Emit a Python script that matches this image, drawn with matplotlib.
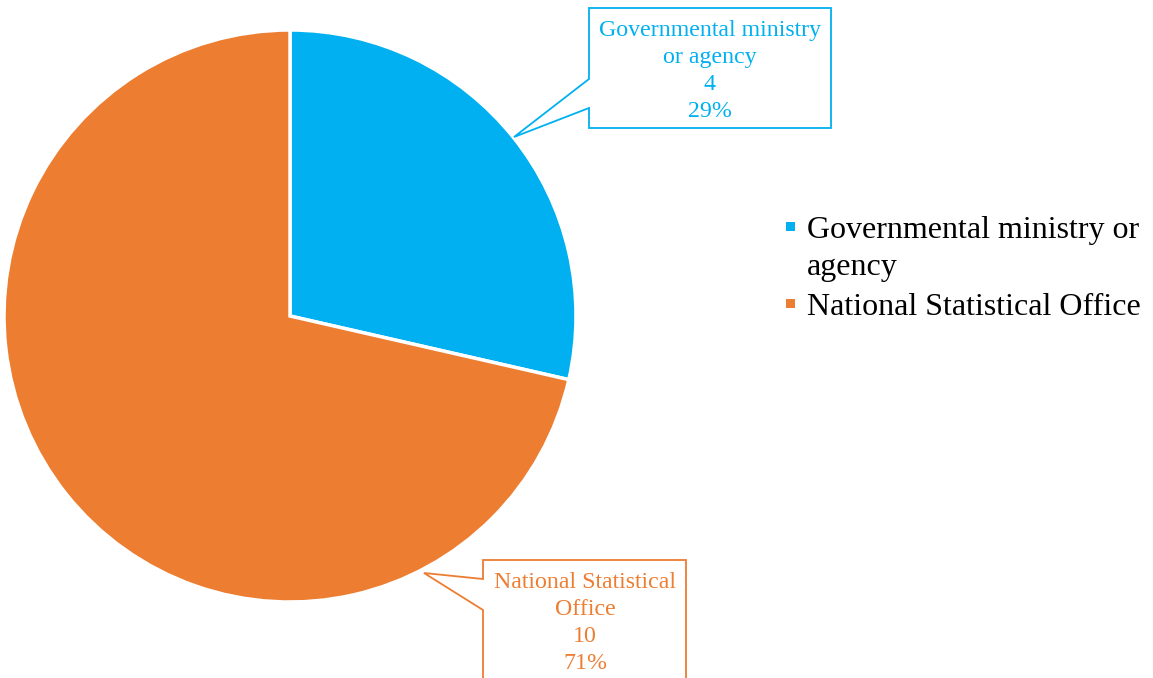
import matplotlib.pyplot as plt
from matplotlib.patches import Polygon, Rectangle

# data
categories = ['Governmental ministry or agency', 'National Statistical Office']
values = [4, 10]
colors = ['#00B0F0', '#ED7D31']
box_labels = ['Governmental ministry\nor agency', 'National Statistical\nOffice']
legend_labels = ['Governmental ministry or\nagency', 'National Statistical Office']

plt.rcParams['font.family'] = ['Liberation Serif', 'DejaVu Serif']

W, H = 1153, 678
fig = plt.figure(figsize=(W/100, H/100), dpi=100)
ax = fig.add_axes([0, 0, 1, 1])

# pie (y axis inverted -> counterclock in data = clockwise on screen)
cx, cy, r = 290, 316, 286
wedges, _ = ax.pie(values, colors=colors, startangle=-90, counterclock=True,
                   center=(cx, cy), radius=r, frame=True,
                   wedgeprops=dict(edgecolor='white', linewidth=2.5))
ax.set_xlim(0, W)
ax.set_ylim(H, 0)
ax.set_aspect('equal')
ax.axis('off')

total = sum(values)
pct = [round(100*v/total) for v in values]

# callouts
callouts = [
    dict(poly=[(589, 8), (831, 8), (831, 128), (589, 128), (589, 108), (514, 137), (589, 79)],
         tx=710, ty=71),
    dict(poly=[(483, 560), (686, 560), (686, 720), (483, 720), (483, 610), (424, 573), (483, 579)],
         tx=585, ty=623),
]
for i, c in enumerate(callouts):
    ax.add_patch(Polygon(c['poly'], closed=True, facecolor='white',
                         edgecolor=colors[i], linewidth=1.3, zorder=3))
    ax.text(c['tx'], c['ty'], f"{box_labels[i]}\n{values[i]}\n{pct[i]}%",
            color=colors[i], fontsize=17.2, ha='center', va='center',
            linespacing=1.39, zorder=4)

# legend
ly = [226, 303]
for i in range(len(categories)):
    ax.add_patch(Rectangle((786, ly[i]-4), 9, 9, facecolor=colors[i], edgecolor='none'))
    ax.text(807, ly[i]-10, legend_labels[i], fontsize=23, color='black',
            ha='left', va='top', linespacing=1.36)

fig.savefig('out.png', dpi=100)
